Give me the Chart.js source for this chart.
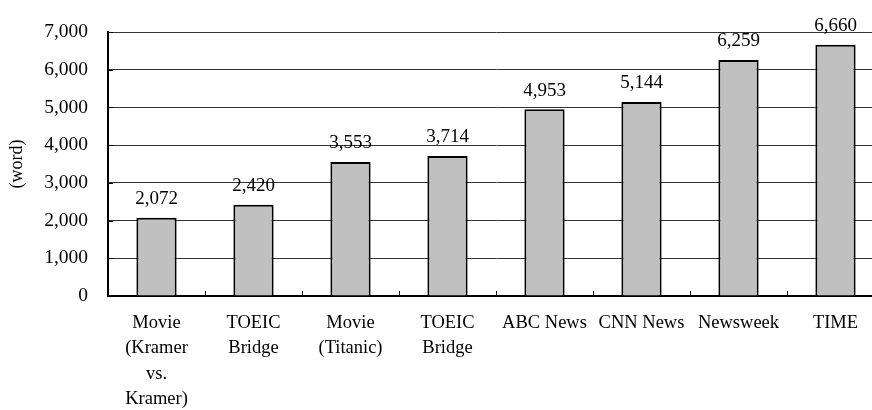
<!DOCTYPE html>
<html>
<head>
<meta charset="utf-8">
<script src="https://cdn.jsdelivr.net/npm/chart.js@4"></script>
<style>
  html, body { margin: 0; padding: 0; background: #fff; overflow: hidden; }
  #wrap { width: 884px; height: 410px; }
</style>
</head>
<body>
<div id="wrap"><canvas id="chart"></canvas></div>
<script>
const CATEGORIES = [
  ['Movie', '(Kramer', 'vs.', 'Kramer)'],
  ['TOEIC', 'Bridge'],
  ['Movie', '(Titanic)'],
  ['TOEIC', 'Bridge'],
  'ABC News',
  'CNN News',
  'Newsweek',
  'TIME'
];
const WORD_COUNTS = [2072, 2420, 3553, 3714, 4953, 5144, 6259, 6660];
const Y_TICKS = [0, 1000, 2000, 3000, 4000, 5000, 6000, 7000];

const FONT_FAMILY = '"Liberation Serif", "Times New Roman", serif';
const TEXT_COLOR = '#000';

function formatThousands(value) {
  return value.toLocaleString('en-US');
}

// value labels above bars
const valueLabels = {
  id: 'valueLabels',
  afterDatasetsDraw(chart) {
    const { ctx } = chart;
    const meta = chart.getDatasetMeta(0);
    ctx.save();
    ctx.font = `19px ${FONT_FAMILY}`;
    ctx.fillStyle = TEXT_COLOR;
    ctx.textAlign = 'center';
    ctx.textBaseline = 'bottom';
    meta.data.forEach((bar, index) => {
      ctx.fillText(formatThousands(WORD_COUNTS[index]), bar.x, bar.y - 9);
    });
    ctx.restore();
  }
};

// short inward tick marks on both axes
const innerTicks = {
  id: 'innerTicks',
  afterDraw(chart) {
    const { ctx, chartArea, scales } = chart;
    ctx.save();
    ctx.strokeStyle = '#000';
    ctx.lineWidth = 1;
    ctx.beginPath();
    for (let i = 0; i <= CATEGORIES.length; i++) {
      const x = Math.round(chartArea.left + (chartArea.right - chartArea.left) * i / CATEGORIES.length) + 0.5;
      ctx.moveTo(x, chartArea.bottom);
      ctx.lineTo(x, chartArea.bottom - 5);
    }
    Y_TICKS.forEach((value) => {
      const y = Math.round(scales.y.getPixelForValue(value)) + 0.5;
      ctx.moveTo(chartArea.left, y);
      ctx.lineTo(chartArea.left + 5, y);
    });
    ctx.stroke();
    ctx.restore();
  }
};

new Chart(document.getElementById('chart'), {
  type: 'bar',
  data: {
    labels: CATEGORIES,
    datasets: [{
      data: WORD_COUNTS,
      backgroundColor: '#C0C0C0',
      borderColor: '#000',
      borderWidth: 2,
      categoryPercentage: 1,
      barPercentage: 0.415
    }]
  },
  options: {
    responsive: true,
    maintainAspectRatio: false,
    animation: false,
    layout: { padding: { top: 32, left: 0, right: 0, bottom: 0 } },
    plugins: {
      legend: { display: false },
      tooltip: { enabled: false }
    },
    scales: {
      x: {
        grid: { display: false, drawTicks: false },
        border: { color: '#000', width: 2 },
        ticks: {
          color: TEXT_COLOR,
          maxRotation: 0,
          autoSkip: false,
          padding: 14,
          font: { family: FONT_FAMILY, size: 18.5, lineHeight: 1.38 }
        },
        afterFit(scale) { scale.height = 114; }
      },
      y: {
        min: 0,
        max: 7000,
        afterBuildTicks(scale) {
          scale.ticks = Y_TICKS.map((value) => ({ value }));
        },
        grid: {
          color: '#333',
          lineWidth: 1,
          drawTicks: false
        },
        border: { color: '#000', width: 2 },
        ticks: {
          color: TEXT_COLOR,
          padding: 20,
          font: { family: FONT_FAMILY, size: 19.5 },
          callback: (value) => formatThousands(value)
        },
        title: {
          display: true,
          text: '(word)',
          color: TEXT_COLOR,
          padding: { top: 6, bottom: 0 },
          font: { family: FONT_FAMILY, size: 18 }
        },
        afterFit(scale) { scale.width = 108; }
      }
    }
  },
  plugins: [valueLabels, innerTicks]
});
</script>
</body>
</html>
